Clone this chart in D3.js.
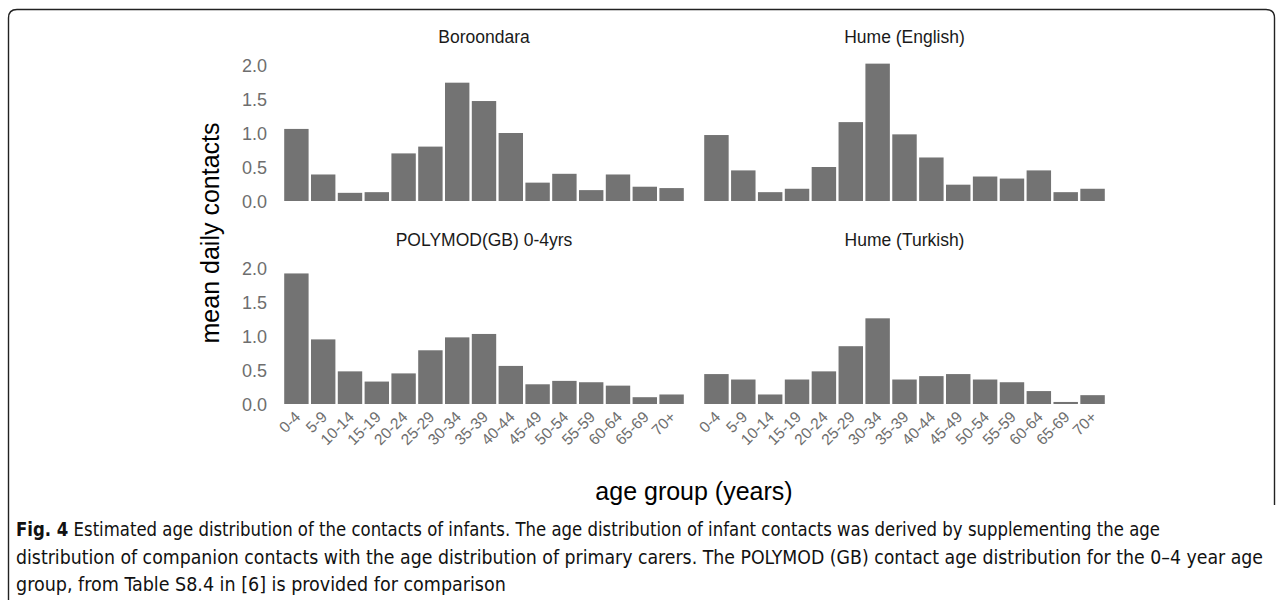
<!DOCTYPE html>
<html>
<head>
<meta charset="utf-8">
<script src="https://cdn.jsdelivr.net/npm/d3@7"></script>
<style>
  html, body { margin: 0; padding: 0; background: #fff; }
  svg { display: block; }
</style>
</head>
<body>
<svg id="chart" width="1281" height="607"></svg>
<script>
// ---- data ----
const ageGroups = ["0-4","5-9","10-14","15-19","20-24","25-29","30-34","35-39","40-44","45-49","50-54","55-59","60-64","65-69","70+"];
const panelTitles = ["Boroondara", "Hume (English)", "POLYMOD(GB) 0-4yrs", "Hume (Turkish)"];
const boroondara   = [1.06, 0.39, 0.12, 0.13, 0.70, 0.80, 1.74, 1.47, 1.00, 0.27, 0.40, 0.16, 0.39, 0.21, 0.19];
const humeEnglish  = [0.97, 0.45, 0.13, 0.18, 0.50, 1.16, 2.02, 0.98, 0.64, 0.24, 0.36, 0.33, 0.45, 0.13, 0.18];
const polymod      = [1.92, 0.95, 0.48, 0.33, 0.45, 0.79, 0.98, 1.03, 0.56, 0.29, 0.34, 0.32, 0.27, 0.10, 0.14];
const humeTurkish  = [0.44, 0.36, 0.14, 0.36, 0.48, 0.85, 1.26, 0.36, 0.41, 0.44, 0.36, 0.32, 0.19, 0.03, 0.13];
const yTicks = [0, 0.5, 1.0, 1.5, 2.0];
const yTitle = "mean daily contacts";
const xTitle = "age group (years)";
const captionBold = "Fig. 4";
const captionLines = [
  " Estimated age distribution of the contacts of infants. The age distribution of infant contacts was derived by supplementing the age",
  "distribution of companion contacts with the age distribution of primary carers. The POLYMOD (GB) contact age distribution for the 0\u20134 year age",
  "group, from Table S8.4 in [6] is provided for comparison"
];

const svg = d3.select("#chart");
const FONT = "'Liberation Sans', Arial, Helvetica, sans-serif";

// frame
svg.append("path")
  .attr("d", "M8.5,600 L8.5,18 Q8.5,9.5 17,9.5 L1266,9.5 Q1274.5,9.5 1274.5,18 L1274.5,505")
  .attr("fill", "none").attr("stroke", "#222").attr("stroke-width", 1.4);

const cols = [[283, 685], [703, 1106]];
const rows = [[201, 65], [404, 268]];
const series = [boroondara, humeEnglish, polymod, humeTurkish];

series.forEach((vals, i) => {
  const c = i % 2, r = Math.floor(i / 2);
  const x = d3.scaleBand().domain(ageGroups).range(cols[c]).paddingInner(0.09).paddingOuter(0.045);
  const y = d3.scaleLinear().domain([0, 2]).range(rows[r]);
  const g = svg.append("g");

  g.selectAll("rect").data(vals).enter().append("rect")
    .attr("x", (d, k) => x(ageGroups[k]))
    .attr("width", x.bandwidth())
    .attr("y", d => y(d))
    .attr("height", d => y(0) - y(d))
    .attr("fill", "#737373");

  // title
  g.append("text")
    .attr("x", (cols[c][0] + cols[c][1]) / 2)
    .attr("y", rows[r][1] - 22)
    .attr("text-anchor", "middle")
    .attr("font-family", FONT).attr("font-size", 17.5).attr("fill", "#1a1a1a")
    .text(panelTitles[i]);

  // y axis on left column
  if (c === 0) {
    const ax = d3.axisLeft(y).tickValues(yTicks).tickFormat(d3.format(".1f")).tickSize(0).tickPadding(0);
    const ag = g.append("g").attr("transform", "translate(267,0)").call(ax);
    ag.select(".domain").remove();
    ag.selectAll("text").attr("font-family", FONT).attr("font-size", 18).attr("fill", "#6e6e6e")
      .attr("dy", "0.36em");
  }
  // x axis on bottom row
  if (r === 1) {
    const ax = d3.axisBottom(x).tickSize(0).tickPadding(0);
    const ag = g.append("g").attr("transform", `translate(0,${y(0)})`).call(ax);
    ag.select(".domain").remove();
    ag.selectAll("text")
      .attr("font-family", FONT).attr("font-size", 15.5).attr("fill", "#6e6e6e")
      .attr("text-anchor", "end")
      .attr("dy", null).attr("y", null)
      .attr("transform", "translate(5,14) rotate(-45)");
  }
});

// axis titles
svg.append("text")
  .attr("transform", "translate(219,233) rotate(-90)")
  .attr("text-anchor", "middle")
  .attr("font-family", FONT).attr("font-size", 25).attr("fill", "#000")
  .text(yTitle);
svg.append("text")
  .attr("x", 694).attr("y", 500)
  .attr("text-anchor", "middle")
  .attr("font-family", FONT).attr("font-size", 25).attr("fill", "#000")
  .text(xTitle);

// caption
const CAPFONT = "'Liberation Sans Narrow', 'DejaVu Sans Condensed', 'Arial Narrow', sans-serif";
const capEnds = [1160, 1263, null];
const cap = svg.append("g").attr("font-family", CAPFONT).attr("font-size", 19.5).attr("fill", "#111");
captionLines.forEach((line, k) => {
  const t = cap.append("text").attr("x", 16).attr("y", 536 + k * 27.5);
  if (capEnds[k]) {
    t.attr("textLength", capEnds[k] - 16).attr("lengthAdjust", "spacingAndGlyphs");
  }
  if (k === 0) {
    t.append("tspan").attr("font-weight", "bold").text(captionBold);
  }
  t.append("tspan").text(line);
});
</script>
</body>
</html>
